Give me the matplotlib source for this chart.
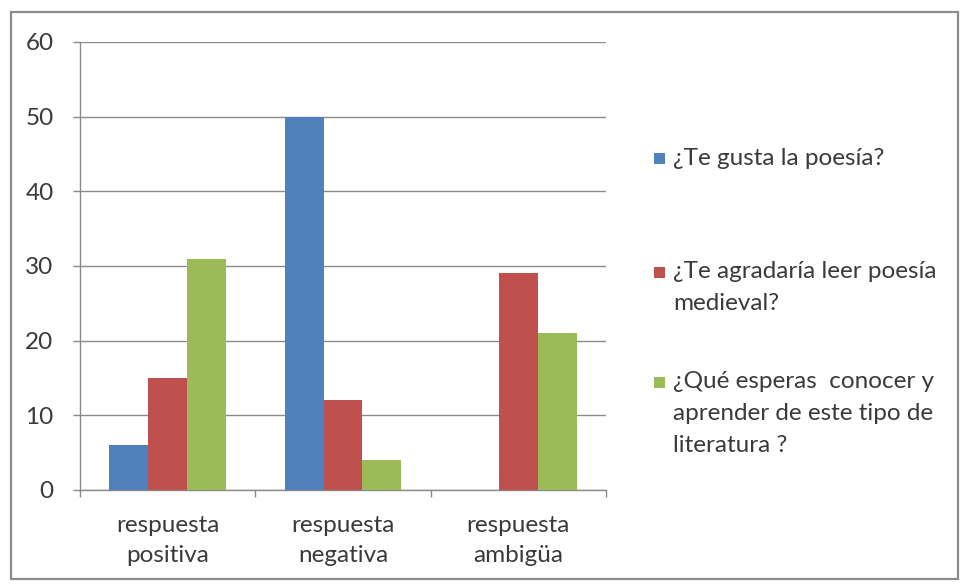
import matplotlib
matplotlib.use("Agg")
import matplotlib.pyplot as plt
from matplotlib.patches import Rectangle
import numpy as np

plt.rcParams['font.family'] = ['Lato', 'DejaVu Sans']

categories = ["respuesta\npositiva", "respuesta\nnegativa", "respuesta\nambigüa"]
series_names = [
    "¿Te gusta la poesía?",
    "¿Te agradaría leer poesía\nmedieval?",
    "¿Qué esperas  conocer y\naprender de este tipo de\nliteratura ?",
]
gusta = [6, 50, 0]
agradaria = [15, 12, 29]
esperas = [31, 4, 21]
colors = ["#4F81BD", "#C0504D", "#9BBB59"]
yticks = [0, 10, 20, 30, 40, 50, 60]

W, H = 961, 584
fig = plt.figure(figsize=(W / 100, H / 100), dpi=100)
fig.patch.set_facecolor("white")

def fx(px):
    return px / W

def fy(py):
    return 1 - py / H

# outer chart frame
fig.patches.append(Rectangle((fx(11), fy(579)), fx(947), (579 - 12) / H,
                             transform=fig.transFigure, fill=False,
                             edgecolor="#8c8c8c", linewidth=1.6))

ax = fig.add_axes([fx(80), fy(490), fx(606 - 80), (490 - 42) / H])
text_color = "#3a3a3a"
grid_color = "#8a8a8a"

n_series = 3
x = np.arange(len(categories))
bar_w = 0.667 / n_series
for i, (vals, col) in enumerate(zip([gusta, agradaria, esperas], colors)):
    offs = (i - (n_series - 1) / 2) * bar_w
    ax.bar(x + offs, vals, width=bar_w, color=col, zorder=3, linewidth=0)

ax.set_xlim(-0.5, len(categories) - 0.5)
ax.set_ylim(0, 60)
ax.set_yticks(yticks)
ax.set_yticklabels([str(v) for v in yticks])
ax.yaxis.grid(True, color=grid_color, linewidth=1.0, zorder=0)
ax.set_axisbelow(True)

ax.set_xticks(x)
ax.set_xticklabels(categories, linespacing=1.55)
ax.set_xticks(np.arange(len(categories) + 1) - 0.5, minor=True)
ax.tick_params(axis='x', which='major', length=0, pad=18, labelsize=17.5,
               labelcolor=text_color)
ax.tick_params(axis='x', which='minor', length=5, width=1, color=grid_color,
               direction='out')
ax.tick_params(axis='y', length=5, width=1, color=grid_color, pad=14,
               labelsize=17.5, labelcolor=text_color)

for side in ["top", "right"]:
    ax.spines[side].set_visible(False)
for side in ["left", "bottom"]:
    ax.spines[side].set_color(grid_color)
    ax.spines[side].set_linewidth(1.0)

# legend entries spread down the right-hand side
line_h = 32
centers = [158, 288, 414]
for name, col, cy in zip(series_names, colors, centers):
    lines = name.split("\n")
    first = cy - (len(lines) - 1) * line_h / 2
    fig.patches.append(Rectangle((fx(654), fy(first + 6)), fx(11), 11 / H,
                                 transform=fig.transFigure, facecolor=col,
                                 edgecolor="none"))
    for k, ln in enumerate(lines):
        fig.text(fx(673), fy(first + k * line_h), ln, fontsize=17.5,
                 color=text_color, va="center", ha="left")

fig.savefig("out.png", dpi=100, facecolor="white")
